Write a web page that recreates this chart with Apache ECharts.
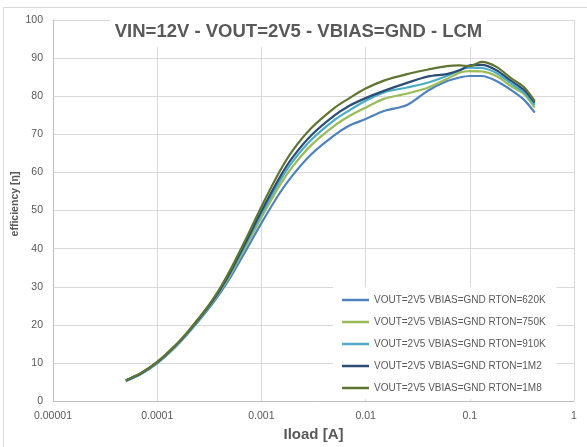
<!DOCTYPE html>
<html>
<head>
<meta charset="utf-8">
<script src="https://cdn.jsdelivr.net/npm/echarts@6/dist/echarts.min.js"></script>
<style>
  html, body { margin: 0; padding: 0; background: #ffffff; }
  #chart { width: 587px; height: 447px; }
</style>
</head>
<body>
<div id="chart"></div>
<script>
// Load current sweep [A]
const loadCurrent = [0.00005, 0.00007, 0.0001, 0.00015, 0.0002, 0.0003, 0.0004, 0.0005, 0.0007,
                     0.001, 0.0015, 0.002, 0.003, 0.005, 0.007, 0.01, 0.015, 0.025,
                     0.04, 0.06, 0.08, 0.1, 0.13, 0.18, 0.25, 0.33, 0.42];

// Efficiency [%] for each RTON setting
const eff620K = [5.2, 7.1, 9.9, 14.2, 17.9, 23.7, 28.3, 32.3, 39.2,
                 46.7, 54.6, 59.3, 64.7, 69.7, 72.3, 74.0, 76.1, 77.7,
                 81.5, 83.9, 84.9, 85.3, 85.3, 84.0, 81.6, 79.1, 75.7];
const eff750K = [5.3, 7.2, 10.0, 14.4, 18.1, 24.0, 28.8, 33.0, 40.3,
                 48.2, 56.6, 61.6, 67.1, 72.2, 74.8, 77.0, 79.3, 80.7,
                 82.3, 84.5, 86.2, 86.6, 86.5, 85.3, 82.6, 80.6, 77.0];
const eff910K = [5.4, 7.3, 10.1, 14.5, 18.2, 24.1, 29.0, 33.4, 40.9,
                 49.1, 57.7, 62.9, 68.5, 73.7, 76.3, 78.8, 81.0, 82.3,
                 83.6, 85.3, 86.9, 87.5, 87.4, 86.1, 83.3, 81.0, 77.7];
const eff1M2  = [5.4, 7.3, 10.2, 14.6, 18.3, 24.3, 29.2, 33.7, 41.4,
                 49.8, 58.7, 64.0, 69.7, 74.9, 77.5, 79.5, 81.4, 83.5,
                 85.2, 85.8, 86.8, 88.1, 88.2, 86.8, 84.0, 81.7, 78.3];
const eff1M8  = [5.5, 7.4, 10.3, 14.7, 18.5, 24.5, 29.6, 34.3, 42.2,
                 51.0, 60.3, 65.8, 71.6, 76.9, 79.5, 82.0, 84.1, 85.8,
                 87.0, 87.9, 88.1, 87.9, 89.0, 87.7, 84.7, 82.4, 78.7];

const seriesNames = [
  'VOUT=2V5 VBIAS=GND RTON=620K',
  'VOUT=2V5 VBIAS=GND RTON=750K',
  'VOUT=2V5 VBIAS=GND RTON=910K',
  'VOUT=2V5 VBIAS=GND RTON=1M2',
  'VOUT=2V5 VBIAS=GND RTON=1M8'
];
const seriesValues = [eff620K, eff750K, eff910K, eff1M2, eff1M8];
const seriesColors = ['#4f81bd', '#9bbb59', '#4bacc6', '#2c4d75', '#5f7530'];

// Decade tick labels of the log axis
const xTickLabels = ['0.00001', '0.0001', '0.001', '0.01', '0.1', '1'];

const titleText = 'VIN=12V - VOUT=2V5 - VBIAS=GND - LCM';
const xAxisTitle = 'Iload [A]';
const yAxisTitle = 'efficiency [η]';
const textGray = '#595959';
const fontFamily = '"Liberation Sans", Arial, sans-serif';

const chart = echarts.init(document.getElementById('chart'), null, { renderer: 'canvas' });

chart.setOption({
  animation: false,
  backgroundColor: '#ffffff',
  textStyle: { fontFamily: fontFamily },
  grid: { left: 53, right: 13, top: 20, bottom: 37, containLabel: false },
  xAxis: {
    type: 'log',
    logBase: 10,
    min: 0.00001,
    max: 1,
    name: xAxisTitle,
    nameLocation: 'middle',
    nameGap: 25,
    nameTextStyle: { color: textGray, fontSize: 15, fontWeight: 'bold', fontFamily: fontFamily },
    axisLine: { show: true, lineStyle: { color: '#bfbfbf', width: 1 } },
    axisTick: { show: false },
    axisLabel: {
      color: textGray, fontSize: 10.5, margin: 10, fontFamily: fontFamily,
      formatter: function (v) {
        const i = Math.round(Math.log10(v)) + 5;
        return xTickLabels[i] !== undefined ? xTickLabels[i] : '';
      }
    },
    splitLine: { show: true, lineStyle: { color: '#d9d9d9', width: 1 } },
    minorTick: { show: false }
  },
  yAxis: {
    type: 'value',
    min: 0,
    max: 100,
    interval: 10,
    axisLine: { show: true, lineStyle: { color: '#bfbfbf', width: 1 } },
    axisTick: { show: false },
    axisLabel: { color: textGray, fontSize: 10.5, margin: 10, fontFamily: fontFamily },
    splitLine: { show: true, lineStyle: { color: '#d9d9d9', width: 1 } }
  },
  legend: {
    orient: 'vertical',
    left: 333,
    top: 287,
    backgroundColor: '#ffffff',
    padding: [6, 11, 4, 9],
    itemGap: 8,
    itemWidth: 27,
    itemHeight: 2.5,
    itemTextGap: 2,
    icon: 'rect',
    selectedMode: false,
    textStyle: { color: textGray, fontSize: 10, lineHeight: 14, fontFamily: fontFamily },
    data: seriesNames,
    z: 10
  },
  graphic: [
    {
      type: 'rect',
      shape: { x: 3.5, y: 7.5, width: 620, height: 500 },
      style: { fill: 'none', stroke: '#d9d9d9', lineWidth: 1 },
      silent: true,
      z: 1
    },
    {
      type: 'rect',
      shape: { x: 110, y: 12, width: 377, height: 35 },
      style: { fill: '#ffffff' },
      silent: true,
      z: 10
    },
    {
      type: 'text',
      x: 298.5,
      y: 32,
      style: {
        text: titleText,
        fill: textGray,
        font: 'bold 18.5px ' + fontFamily,
        textAlign: 'center',
        textVerticalAlign: 'middle'
      },
      silent: true,
      z: 11
    },
    {
      type: 'text',
      x: 15,
      y: 204,
      rotation: Math.PI / 2,
      style: {
        text: yAxisTitle,
        fill: textGray,
        font: 'bold 10.5px ' + fontFamily,
        textAlign: 'center',
        textVerticalAlign: 'middle'
      },
      silent: true,
      z: 11
    }
  ],
  series: seriesNames.map(function (name, k) {
    return {
      name: name,
      type: 'line',
      data: loadCurrent.map(function (x, i) { return [x, seriesValues[k][i]]; }),
      smooth: 0.3,
      showSymbol: false,
      symbol: 'none',
      color: seriesColors[k],
      itemStyle: { color: seriesColors[k] },
      lineStyle: { color: seriesColors[k], width: 2.2 },
      z: 3 + k
    };
  })
});
</script>
</body>
</html>
